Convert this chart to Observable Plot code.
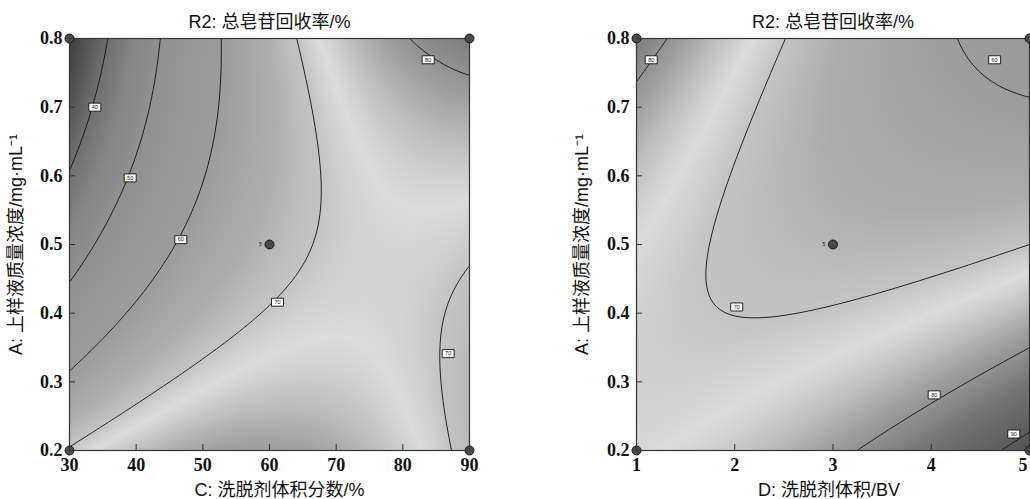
<!DOCTYPE html>
<html><head><meta charset="utf-8">
<script src="https://cdn.jsdelivr.net/npm/d3@7"></script>
<script src="https://cdn.jsdelivr.net/npm/@observablehq/plot@0.6"></script>
<style>
html,body{margin:0;padding:0;background:#fff;overflow:hidden;}
#wrap{position:relative;width:1030px;height:499px;overflow:hidden;}
#wrap > svg{position:absolute;top:0;}
</style></head><body><div id="wrap"></div>
<script>
// ---- texts ----
const titleText = "R2: 总皂苷回收率/%";
const yLabel = "A: 上样液质量浓度/mg·mL⁻¹";
const xLabelLeft = "C: 洗脱剂体积分数/%";
const xLabelRight = "D: 洗脱剂体积/BV";
// ---- factor ranges and ticks ----
const aDomain = [0.2, 0.8];
const cDomain = [30, 90];
const dDomain = [1, 5];
const aTicks = [0.2, 0.3, 0.4, 0.5, 0.6, 0.7, 0.8];
const cTicks = [30, 40, 50, 60, 70, 80, 90];
const dTicks = [1, 2, 3, 4, 5];
// ---- fitted quadratic response surface (coded units) ----
// order: [b0, bA, bX, bAX, bAA, bXX]
const coefAC = [67.8, -6.0, 12.2, 13.3, 4.9, -9.3];
const coefAD = [67.8, -6.0, -1.3, -11.5, 4.9, 3.5];
// ---- contour levels ----
const levelsLeft = [40, 50, 60, 70, 80];
const levelsRight = [60, 70, 80, 90];
// ---- contour label spots ----
const labelLeftX = [33.8, 39.1, 46.7, 61.2, 83.8, 86.8];
const labelLeftY = [0.70, 0.597, 0.507, 0.416, 0.769, 0.341];
const labelLeftV = [40, 50, 60, 70, 80, 70];
const labelRightX = [1.15, 4.645, 2.02, 4.03, 4.84];
const labelRightY = [0.769, 0.769, 0.409, 0.281, 0.224];
const labelRightV = [80, 60, 70, 80, 90];
// ---- design points ----
const cornerLeftX = [30, 90, 30, 90];
const cornerRightX = [1, 5, 1, 5];
const cornerY = [0.2, 0.2, 0.8, 0.8];
const centerLeft = [60, 0.5];
const centerRight = [3, 0.5];
const centerRuns = "5";
// ---- grayscale ramp (value -> shade) ----
const grayValues = [30, 35, 40, 45, 50, 60, 66, 70, 72.5, 75, 78, 80, 84, 90, 95];
const grayShades = ["#383838", "#505050", "#707070", "#858585", "#909090", "#9c9c9c", "#acacac", "#c4c4c4", "#dcdcdc", "#c2c2c2", "#a2a2a2", "#929292", "#747474", "#5c5c5c", "#4c4c4c"];

function model(coef, xDom) {
  const [b0, bA, bX, bAX, bAA, bXX] = coef;
  const xm = (xDom[0] + xDom[1]) / 2, xh = (xDom[1] - xDom[0]) / 2;
  const am = (aDomain[0] + aDomain[1]) / 2, ah = (aDomain[1] - aDomain[0]) / 2;
  return (x, y) => {
    const u = (x - xm) / xh, a = (y - am) / ah;
    return b0 + bA * a + bX * u + bAX * a * u + bAA * a * a + bXX * u * u;
  };
}

const sans = "Liberation Sans, Arial, Noto Sans CJK SC, sans-serif";
const serif = "Liberation Serif, Times New Roman, serif";

function panel({xDom, xTicks, coef, levels, lx, ly, lv, cx, center, xLabel, marginLeft, marginRight, xLabelDx, yLabelDx}) {
  const f = model(coef, xDom);
  const labels = lx.map((x, i) => ({x, y: ly[i], v: lv[i]}));
  const corners = cx.map((x, i) => ({x, y: cornerY[i]}));
  const box = {draw(ctx) { ctx.rect(-6, -4, 12, 8); }};
  return Plot.plot({
    width: 515, height: 499,
    marginTop: 38, marginBottom: 49, marginLeft, marginRight,
    style: {background: "transparent", fontFamily: serif, overflow: "visible"},
    x: {domain: xDom, label: null},
    y: {domain: aDomain, label: null},
    color: {type: "linear", domain: grayValues, range: grayShades, clamp: true},
    marks: [
      Plot.raster({x1: xDom[0], x2: xDom[1], y1: aDomain[0], y2: aDomain[1], fill: f, pixelSize: 1}),
      Plot.contour({x1: xDom[0], x2: xDom[1], y1: aDomain[0], y2: aDomain[1], value: f, thresholds: levels, stroke: "#111", strokeWidth: 0.9, fill: "none", pixelSize: 1}),
      Plot.frame({stroke: "#333", strokeWidth: 1.2}),
      Plot.dot(labels, {x: "x", y: "y", symbol: box, fill: "white", stroke: "#111", strokeWidth: 0.9}),
      Plot.text(labels, {x: "x", y: "y", text: d => String(d.v), fontSize: 5.5, fontFamily: sans, fill: "#111"}),
      Plot.dot(corners, {x: "x", y: "y", r: 4.5, fill: "#4a4a4a", stroke: "#1a1a1a", strokeWidth: 1}),
      Plot.dot([center], {x: d => d[0], y: d => d[1], r: 4.5, fill: "#4a4a4a", stroke: "#1a1a1a", strokeWidth: 1}),
      Plot.text([center], {x: d => d[0], y: d => d[1], text: () => centerRuns, dx: -9, fontSize: 5, fontFamily: sans, fill: "#111"}),
      Plot.axisX({ticks: xTicks, tickSize: -6, tickFormat: () => "", label: null, stroke: "#333"}),
      Plot.axisX({ticks: xTicks, tickSize: 0, tickPadding: 8, tickFormat: d3.format("d"), label: null, fontSize: 18, fontWeight: "bold", fontFamily: serif, fill: "#111"}),
      Plot.axisY({ticks: aTicks, tickSize: -6, tickFormat: () => "", label: null, stroke: "#333"}),
      Plot.axisY({ticks: aTicks, tickSize: 0, tickPadding: 7, tickFormat: d3.format(".1f"), label: null, fontSize: 18, fontWeight: "bold", fontFamily: serif, fill: "#111"}),
      Plot.text([titleText], {text: d => d, frameAnchor: "top", dy: -16.5, lineAnchor: "middle", textAnchor: "middle", fontSize: 18, fontFamily: sans, fill: "#111"}),
      Plot.text([xLabel], {text: d => d, frameAnchor: "bottom", dy: 40, dx: xLabelDx, lineAnchor: "middle", textAnchor: "middle", fontSize: 18, fontFamily: sans, fill: "#111"}),
      Plot.text([yLabel], {text: d => d, frameAnchor: "left", dx: yLabelDx, rotate: -90, lineAnchor: "middle", textAnchor: "middle", fontSize: 18, fontFamily: sans, fill: "#111"})
    ]
  });
}

const wrap = document.getElementById("wrap");
const left = panel({xDom: cDomain, xTicks: cTicks, coef: coefAC, levels: levelsLeft, lx: labelLeftX, ly: labelLeftY, lv: labelLeftV, cx: cornerLeftX, center: centerLeft, xLabel: xLabelLeft, marginLeft: 69, marginRight: 46, xLabelDx: 10, yLabelDx: -53});
const right = panel({xDom: dDomain, xTicks: dTicks, coef: coefAD, levels: levelsRight, lx: labelRightX, ly: labelRightY, lv: labelRightV, cx: cornerRightX, center: centerRight, xLabel: xLabelRight, marginLeft: 121, marginRight: 1, xLabelDx: -4, yLabelDx: -54});
left.style.left = "0px";
right.style.left = "515px";
wrap.appendChild(left);
wrap.appendChild(right);
// keep the last tick label of the right panel inside the page
const rightTicks = right.querySelectorAll("g[aria-label='x-axis tick label'] text");
if (rightTicks.length) {
  const last = rightTicks[rightTicks.length - 1];
  last.setAttribute("text-anchor", "end");
  last.setAttribute("dx", "-2");
}
</script></body></html>
